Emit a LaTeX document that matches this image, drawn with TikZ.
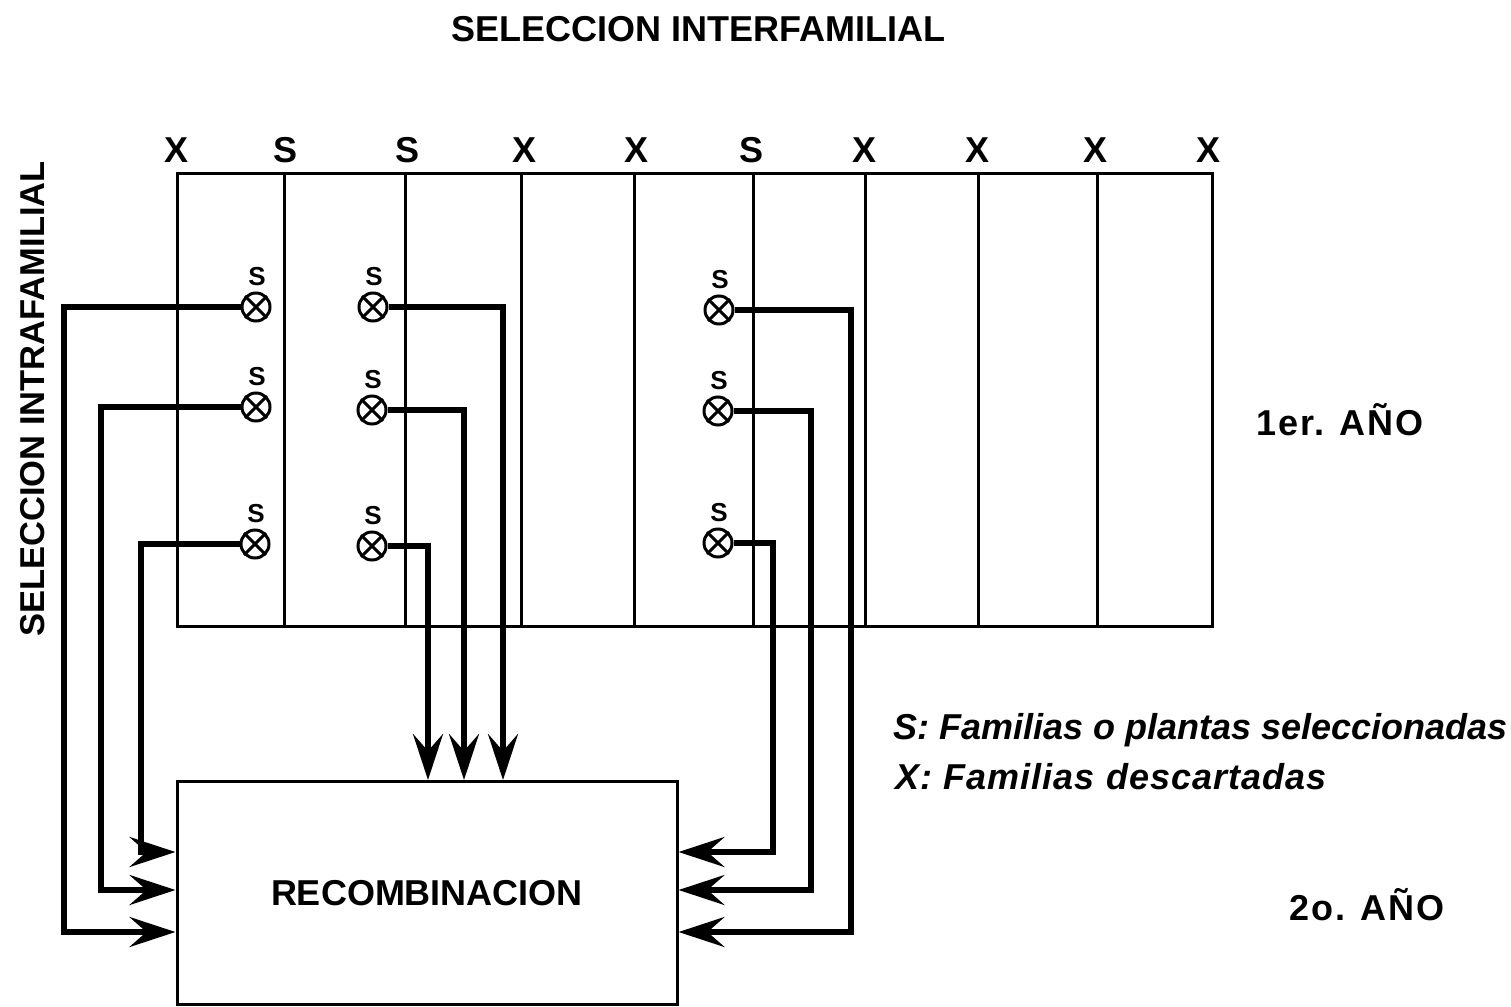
\documentclass[tikz,border=0pt]{standalone}
\usepackage{fontspec}
\setmainfont{Liberation Sans}
\usetikzlibrary{arrows.meta}
\begin{document}
\begin{tikzpicture}[x=1pt,y=-1pt,
  gridline/.style={line width=3pt},
  conn/.style={line width=5.5pt},
  arr/.style={conn,-{Stealth[length=46pt,width=30pt,inset=17pt]}},
  selmark/.style={circle,draw,line width=3pt,minimum size=28pt,inner sep=0pt},
  big/.style={font=\fontsize{36}{40}\selectfont\bfseries,inner sep=0pt},
  small/.style={font=\fontsize{26}{28}\selectfont\bfseries,inner sep=0pt},
  legend/.style={font=\fontsize{36}{40}\selectfont\bfseries\itshape,inner sep=0pt,anchor=base west}]
\useasboundingbox (0,0) rectangle (1511,1006);
% titles
\node[big] (tinter) at (698,29) {SELECCION INTERFAMILIAL};
\node[big,rotate=90,font=\fontsize{34.5}{40}\selectfont\bfseries] (tintra) at (33,399) {SELECCION INTRAFAMILIAL};
\node[big,font=\fontsize{36}{40}\selectfont\bfseries\addfontfeatures{LetterSpace=5}] (y1) at (1340,420) {1er. AÑO};
\node[big,font=\fontsize{36}{40}\selectfont\bfseries\addfontfeatures{LetterSpace=5}] (y2) at (1367,905) {2o. AÑO};
% grid
\draw[gridline] (177,173) rectangle (1212,626);
\foreach \x in {284,405,521,634,753,865,978,1097}
  \draw[gridline] (\x,173) -- (\x,626);
% column labels
\foreach \x/\t [count=\i] in {177/X,286/S,407/S,524/X,636/X,751/S,864/X,977/X,1095/X,1208/X}
  \node[big] (col\i) at (\x,150) {\t};
% selected plants
\foreach \n/\x/\y in {a1/256/307,a2/256/407,a3/255/544,b1/373/307,b2/372/410,b3/372/546,c1/719/310,c2/718/411,c3/718/543}{
  \node[selmark] (\n) at (\x,\y) {};
  \draw[line width=3pt] (\n.north west) -- (\n.south east) (\n.north east) -- (\n.south west);
  \node[small] (s\n) at (\x+1,\y-30) {S};
}
% recombination box
\node[draw,line width=3pt,minimum width=500pt,minimum height=223pt,inner sep=0pt,
      font=\fontsize{36}{40}\selectfont\bfseries] (box) at (427,893) {RECOMBINACION};
% connectors left
\draw[arr] (a1.west) -| (64,932) -- (box.west |- 64,932);
\draw[arr] (a2.west) -| (101,890) -- (box.west |- 101,890);
\draw[arr] (a3.west) -| (141,852) -- (box.west |- 141,852);
% connectors top
\draw[arr] (b1.east) -| (box.north -| 503,0);
\draw[arr] (b2.east) -| (box.north -| 464,0);
\draw[arr] (b3.east) -| (box.north -| 428,0);
% connectors right
\draw[arr] (c1.east) -| (851,932) -- (box.east |- 851,932);
\draw[arr] (c2.east) -| (811,890) -- (box.east |- 811,890);
\draw[arr] (c3.east) -| (773,852) -- (box.east |- 773,852);
% legend
\node[legend] (leg1) at (893,739) {S: Familias o plantas seleccionadas};
\node[legend,font=\fontsize{36}{40}\selectfont\bfseries\itshape\addfontfeatures{LetterSpace=3}] (leg2) at (895,789) {X: Familias descartadas};
\end{tikzpicture}
\end{document}
